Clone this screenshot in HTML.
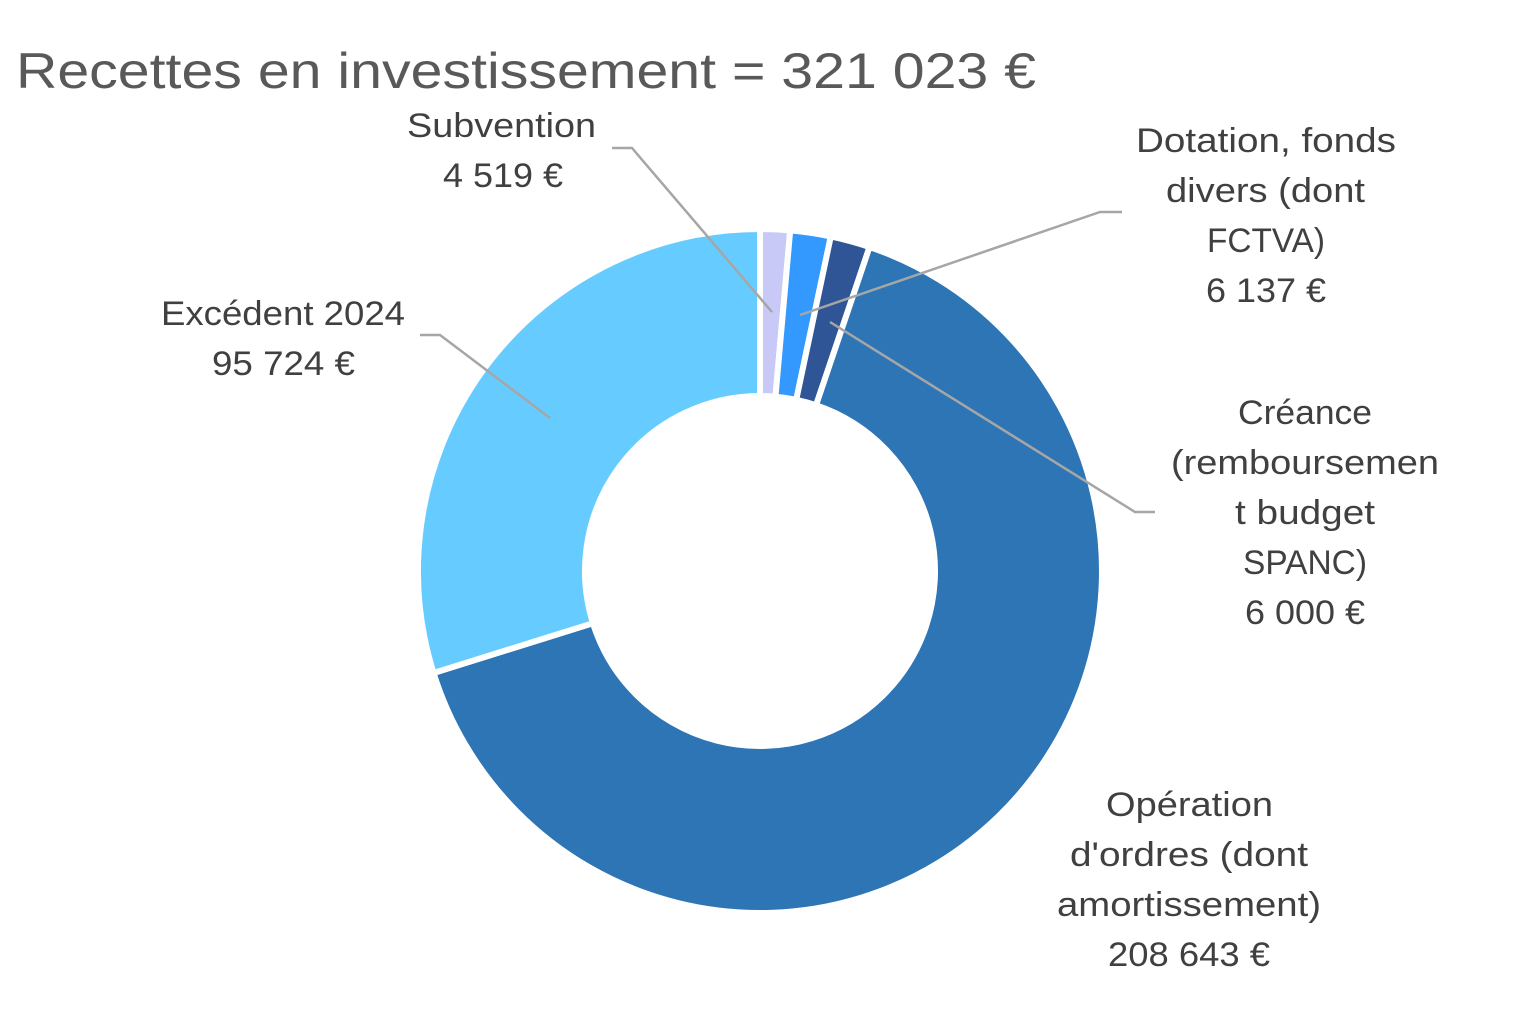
<!DOCTYPE html>
<html><head><meta charset="utf-8"><style>
html,body{margin:0;padding:0;background:#fff;}
svg{display:block;}
text{font-family:"Liberation Sans",sans-serif;}
</style></head><body>
<svg id="s" width="1520" height="1024" viewBox="0 0 1520 1024" xmlns="http://www.w3.org/2000/svg">
<g id="slices"></g>
<g stroke="#a6a6a6" stroke-width="2.5" fill="none">
<polyline points="612,148 632,148 772,312"/>
<polyline points="1122,212 1100,212 800,315"/>
<polyline points="1155,512 1135,512 830,322"/>
<polyline points="420,335 440,335 550,418"/>
</g>
<text x="16" y="88" font-size="50" fill="#595959" textLength="1020" lengthAdjust="spacingAndGlyphs">Recettes en investissement = 321 023 €</text>
<g font-size="34" fill="#404040">
<text x="407" y="137" textLength="189" lengthAdjust="spacingAndGlyphs">Subvention</text>
<text x="443" y="187" textLength="120" lengthAdjust="spacingAndGlyphs">4 519 €</text>
<text x="1136" y="152" textLength="260" lengthAdjust="spacingAndGlyphs">Dotation, fonds</text>
<text x="1166" y="202" textLength="199" lengthAdjust="spacingAndGlyphs">divers (dont</text>
<text x="1207" y="252" textLength="118" lengthAdjust="spacingAndGlyphs">FCTVA)</text>
<text x="1206" y="302" textLength="120" lengthAdjust="spacingAndGlyphs">6 137 €</text>
<text x="1238" y="424" textLength="134" lengthAdjust="spacingAndGlyphs">Créance</text>
<text x="1171" y="474" textLength="268" lengthAdjust="spacingAndGlyphs">(remboursemen</text>
<text x="1235" y="524" textLength="140" lengthAdjust="spacingAndGlyphs">t budget</text>
<text x="1243" y="574" textLength="124" lengthAdjust="spacingAndGlyphs">SPANC)</text>
<text x="1245" y="624" textLength="120" lengthAdjust="spacingAndGlyphs">6 000 €</text>
<text x="1106" y="816" textLength="167" lengthAdjust="spacingAndGlyphs">Opération</text>
<text x="1070" y="866" textLength="238" lengthAdjust="spacingAndGlyphs">d'ordres (dont</text>
<text x="1057" y="916" textLength="264" lengthAdjust="spacingAndGlyphs">amortissement)</text>
<text x="1108" y="966" textLength="162" lengthAdjust="spacingAndGlyphs">208 643 €</text>
<text x="161" y="325" textLength="244" lengthAdjust="spacingAndGlyphs">Excédent 2024</text>
<text x="212" y="375" textLength="143" lengthAdjust="spacingAndGlyphs">95 724 €</text>
</g>
</svg>
<script>
(function(){
var cx=760,cy=571,R=342,r=175;
var vals=[4519,6137,6000,208643,95724];
var cols=["#c9c9f7","#3399ff","#2f5597","#2e75b6","#66ccff"];
var tot=vals.reduce(function(a,b){return a+b;},0);
var a=0,g=document.getElementById("slices"),h="";
function p(rad,ang){return (cx+rad*Math.sin(ang)).toFixed(2)+","+(cy-rad*Math.cos(ang)).toFixed(2);}
for(var i=0;i<vals.length;i++){
 var b=a+vals[i]/tot*2*Math.PI;
 var lg=(b-a)>Math.PI?1:0;
 var d="M"+p(R,a)+" A"+R+","+R+" 0 "+lg+" 1 "+p(R,b)+" L"+p(r,b)+" A"+r+","+r+" 0 "+lg+" 0 "+p(r,a)+" Z";
 h+='<path d="'+d+'" fill="'+cols[i]+'" stroke="#fff" stroke-width="6" stroke-linejoin="miter"/>';
 a=b;
}
g.innerHTML=h;
})();
</script>
</body></html>
